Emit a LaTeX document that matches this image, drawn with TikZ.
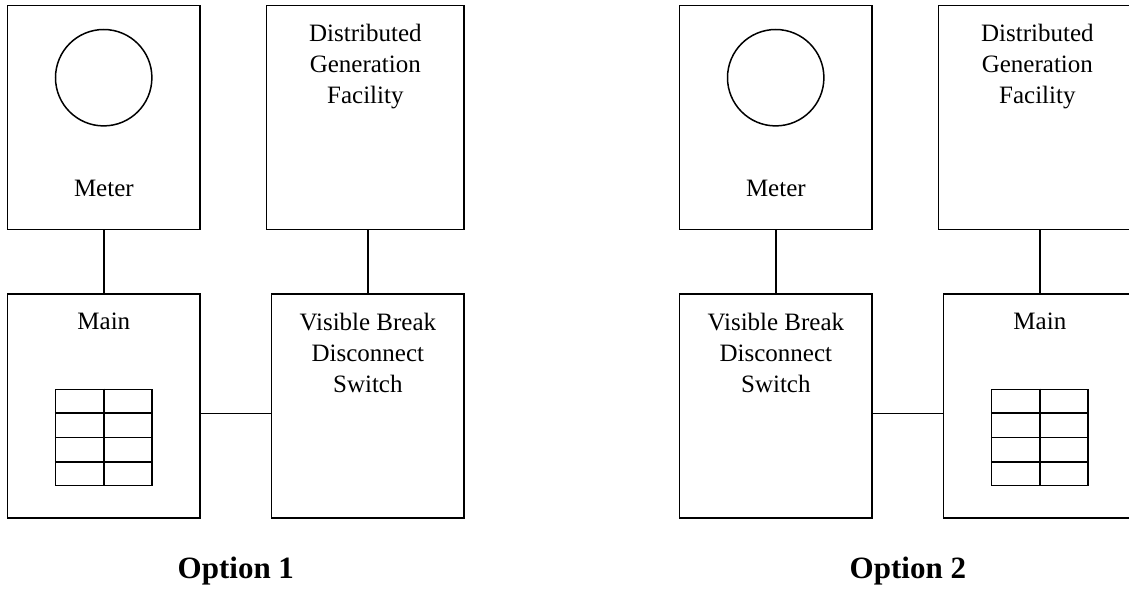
\documentclass[tikz,border=0pt]{standalone}
\usepackage{fontspec}
\setmainfont{Liberation Serif}
\usetikzlibrary{calc}

\begin{document}
\begin{tikzpicture}[x=1pt, y=-1pt, line width=1.5pt,
    box/.style={draw, rectangle, minimum width=192.3pt, minimum height=224pt, inner sep=0pt},
    widebox/.style={box, minimum width=197.3pt},
    lbl/.style={font=\fontsize{25}{31}\selectfont, align=center, inner sep=0pt, anchor=north},
    opt/.style={font=\fontsize{31}{37}\selectfont\bfseries, inner sep=0pt, anchor=base},
    dial/.style={draw, circle, minimum size=96.4pt, inner sep=0pt},
    panel/.style={draw, rectangle, minimum width=96.7pt, minimum height=96.4pt, inner sep=0pt}]
    \useasboundingbox (0,0) rectangle (1129,589);
    \coordinate (tap) at (0,413.7);

    \node[box] (meter1) at (103.85,117.7) {};
    \node[widebox] (dg1) at (365.35,117.7) {};
    \node[box] (main1) at (103.85,405.85) {};
    \node[box] (vbds1) at (367.85,405.85) {};
    \node[dial] (dial1) at (103.7,77.7) {};
    \node[lbl] (metertxt1) at (103.85,179.5) {Meter};
    \node[lbl] (dgtxt1) at ([yshift=-18.9pt]dg1.north) {Distributed\\Generation\\Facility};
    \node[lbl] (maintxt1) at ([yshift=-18.9pt]main1.north) {Main};
    \node[lbl] (vbdstxt1) at ([yshift=-18.9pt]vbds1.north) {Visible Break\\Disconnect\\Switch};
    \node[panel] (panel1) at ([yshift=-31.6pt]main1.center) {};
    \draw (panel1.north) -- (panel1.south);
    \foreach \k in {1,2,3}
        \draw ($(panel1.north west)!\k/4!(panel1.south west)$) -- ($(panel1.north east)!\k/4!(panel1.south east)$);
    \draw (meter1.south) -- (main1.north);
    \draw (vbds1.north) -- (vbds1.north |- dg1.south);
    \draw (main1.east |- tap) -- (vbds1.west |- tap);
    \node[opt] (option1) at (235.85,578.3) {Option 1};

    \node[box] (meter2) at (775.85,117.7) {};
    \node[widebox] (dg2) at (1037.35,117.7) {};
    \node[box] (vbds2) at (775.85,405.85) {};
    \node[box] (main2) at (1039.85,405.85) {};
    \node[dial] (dial2) at (775.7,77.7) {};
    \node[lbl] (metertxt2) at (775.85,179.5) {Meter};
    \node[lbl] (dgtxt2) at ([yshift=-18.9pt]dg2.north) {Distributed\\Generation\\Facility};
    \node[lbl] (vbdstxt2) at ([yshift=-18.9pt]vbds2.north) {Visible Break\\Disconnect\\Switch};
    \node[lbl] (maintxt2) at ([yshift=-18.9pt]main2.north) {Main};
    \node[panel] (panel2) at ([yshift=-31.6pt]main2.center) {};
    \draw (panel2.north) -- (panel2.south);
    \foreach \k in {1,2,3}
        \draw ($(panel2.north west)!\k/4!(panel2.south west)$) -- ($(panel2.north east)!\k/4!(panel2.south east)$);
    \draw (meter2.south) -- (vbds2.north);
    \draw (main2.north) -- (main2.north |- dg2.south);
    \draw (vbds2.east |- tap) -- (main2.west |- tap);
    \node[opt] (option2) at (907.85,578.3) {Option 2};
\end{tikzpicture}
\end{document}
